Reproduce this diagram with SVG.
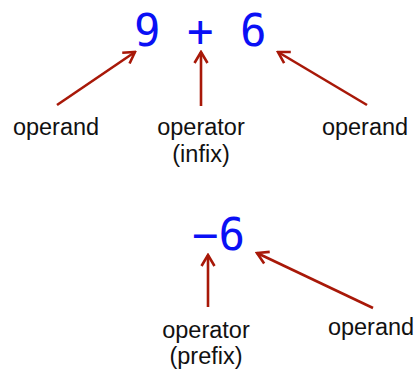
<svg xmlns="http://www.w3.org/2000/svg" width="418" height="374" viewBox="0 0 418 374">
  <style>
    .expr { font-family: "DejaVu Sans Mono", "Liberation Mono", monospace; font-size: 44px; fill: #0a10f5; }
    .label { font-family: "Liberation Sans", Arial, sans-serif; font-size: 23.5px; fill: #111; text-anchor: middle; }
    .arrow { stroke: #a81808; stroke-width: 2.6; fill: none; marker-end: url(#head); }
  </style>
  <defs>
    <marker id="head" markerUnits="userSpaceOnUse" viewBox="-14 -8 16 16" markerWidth="16" markerHeight="16" refX="0" refY="0" orient="auto">
      <path d="M-11,-6.5 L0,0 L-11,6.5" fill="none" stroke="#a81808" stroke-width="2.6" stroke-linejoin="miter"/>
    </marker>
  </defs>

  <!-- binary expression -->
  <g id="infix-expr">
    <text class="expr" x="134" y="46">9 + 6</text>
  </g>
  <g id="infix-left-operand">
    <text class="label" x="56" y="135">operand</text>
  </g>
  <g id="infix-operator">
    <text class="label" x="201" y="135">operator</text>
    <text class="label" x="201" y="162">(infix)</text>
  </g>
  <g id="infix-right-operand">
    <text class="label" x="365" y="135">operand</text>
  </g>

  <!-- unary expression -->
  <g id="prefix-expr">
    <text class="expr" x="192" y="250">−6</text>
  </g>
  <g id="prefix-operator">
    <text class="label" x="206" y="338">operator</text>
    <text class="label" x="206" y="364">(prefix)</text>
  </g>
  <g id="prefix-operand">
    <text class="label" x="371" y="335">operand</text>
  </g>

  <g id="connectors">
    <line class="arrow" x1="57" y1="105" x2="135" y2="52"/>
    <line class="arrow" x1="201" y1="106" x2="201" y2="52"/>
    <line class="arrow" x1="367" y1="105" x2="278" y2="52"/>
    <line class="arrow" x1="208" y1="307" x2="208" y2="255"/>
    <line class="arrow" x1="373" y1="308" x2="257" y2="253"/>
  </g>
</svg>
